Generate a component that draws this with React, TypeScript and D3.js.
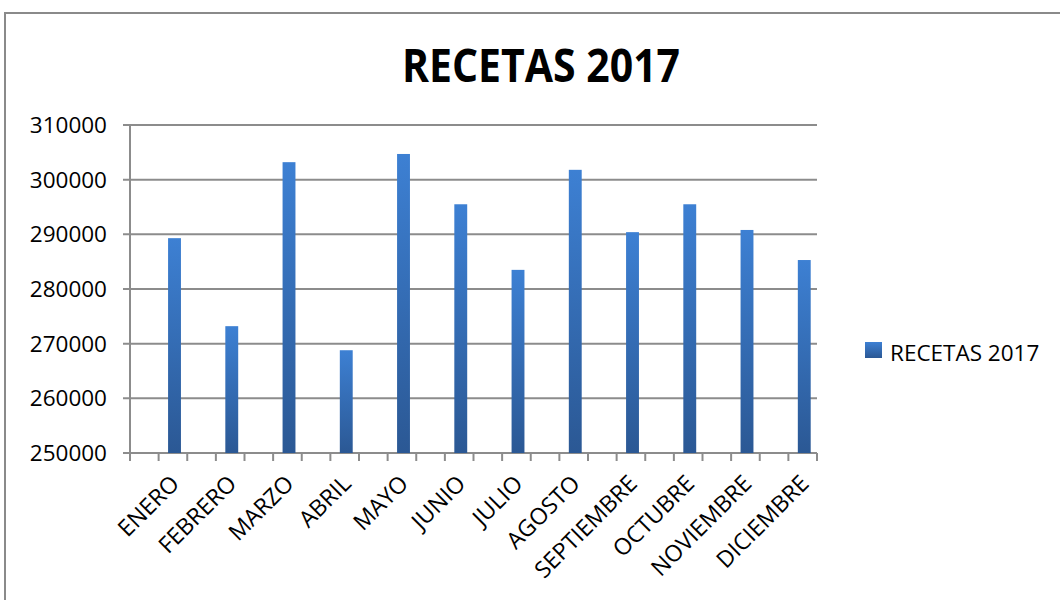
import * as d3 from 'd3';

const months = [
  'ENERO', 'FEBRERO', 'MARZO', 'ABRIL', 'MAYO', 'JUNIO',
  'JULIO', 'AGOSTO', 'SEPTIEMBRE', 'OCTUBRE', 'NOVIEMBRE', 'DICIEMBRE'
];
const recetas = [
  289300, 273200, 303200, 268800, 304700, 295500,
  283500, 301800, 290400, 295500, 290800, 285300
];
const yTicks = [250000, 260000, 270000, 280000, 290000, 300000, 310000];
const seriesName = 'RECETAS 2017';
const title = 'RECETAS 2017';

const W = 1060;
const H = 600;
const font = '"Open Sans", "DejaVu Sans", sans-serif';
const gridColor = '#8c8c8c';

const App = (): JSX.Element => {
  const left = 130;
  const right = 817;
  const top = 125;
  const bottom = 453;

  const x = d3.scaleBand<string>().domain(months).range([left, right]);
  const y = d3.scaleLinear().domain([250000, 310000]).range([bottom, top]);
  const bw = x.bandwidth();

  // Excel-style half-category tick marks
  const tickXs = d3.range(0, months.length * 2 + 1).map((i) => left + (i * bw) / 2);

  return (
    <svg
      width={W}
      height={H}
      viewBox={`0 0 ${W} ${H}`}
      style={{ position: 'absolute', left: 0, top: 0, background: '#fff' }}
    >
      <defs>
        <linearGradient id="barGrad" x1="0" y1="0" x2="0" y2="1">
          <stop offset="0%" stopColor="#3d80d3" />
          <stop offset="100%" stopColor="#2b5894" />
        </linearGradient>
      </defs>
      <rect x={0} y={0} width={W} height={H} fill="#fff" />
      <rect x={5} y={13} width={W + 20} height={H + 20} fill="none" stroke="#8a8a8a" strokeWidth={2} />

      <text
        x={541}
        y={82}
        textAnchor="middle"
        fontFamily={font}
        fontWeight="bold"
        fontSize={47}
        textLength={278}
        lengthAdjust="spacingAndGlyphs"
        fill="#000"
      >
        {title}
      </text>

      {yTicks.map((t) => (
        <g key={t}>
          <line x1={left - 7} x2={right} y1={y(t)} y2={y(t)} stroke={gridColor} strokeWidth={2} />
          <text
            x={107}
            y={y(t)}
            dy="0.36em"
            textAnchor="end"
            fontFamily={font}
            fontSize={22.5}
            fill="#000"
          >
            {t}
          </text>
        </g>
      ))}

      <line x1={left} x2={left} y1={top} y2={bottom} stroke={gridColor} strokeWidth={2} />
      {tickXs.map((tx, i) => (
        <line key={i} x1={tx} x2={tx} y1={bottom} y2={bottom + 8} stroke={gridColor} strokeWidth={2} />
      ))}

      {months.map((m, i) => (
        <rect
          key={m}
          x={(x(m) ?? 0) + bw * 0.665}
          y={y(recetas[i])}
          width={bw * 0.225}
          height={y(250000) - y(recetas[i])}
          fill="url(#barGrad)"
        />
      ))}

      {months.map((m) => {
        const cx = (x(m) ?? 0) + bw / 2 + 22;
        const cy = bottom + 32;
        return (
          <text
            key={m}
            x={cx}
            y={cy}
            transform={`rotate(-45 ${cx} ${cy})`}
            textAnchor="end"
            fontFamily={font}
            fontSize={23}
            fill="#000"
          >
            {m}
          </text>
        );
      })}

      <rect x={865} y={342} width={17} height={16} fill="url(#barGrad)" />
      <text x={890} y={361} fontFamily={font} fontSize={22.5} fill="#000">
        {seriesName}
      </text>
    </svg>
  );
};

export default App;
